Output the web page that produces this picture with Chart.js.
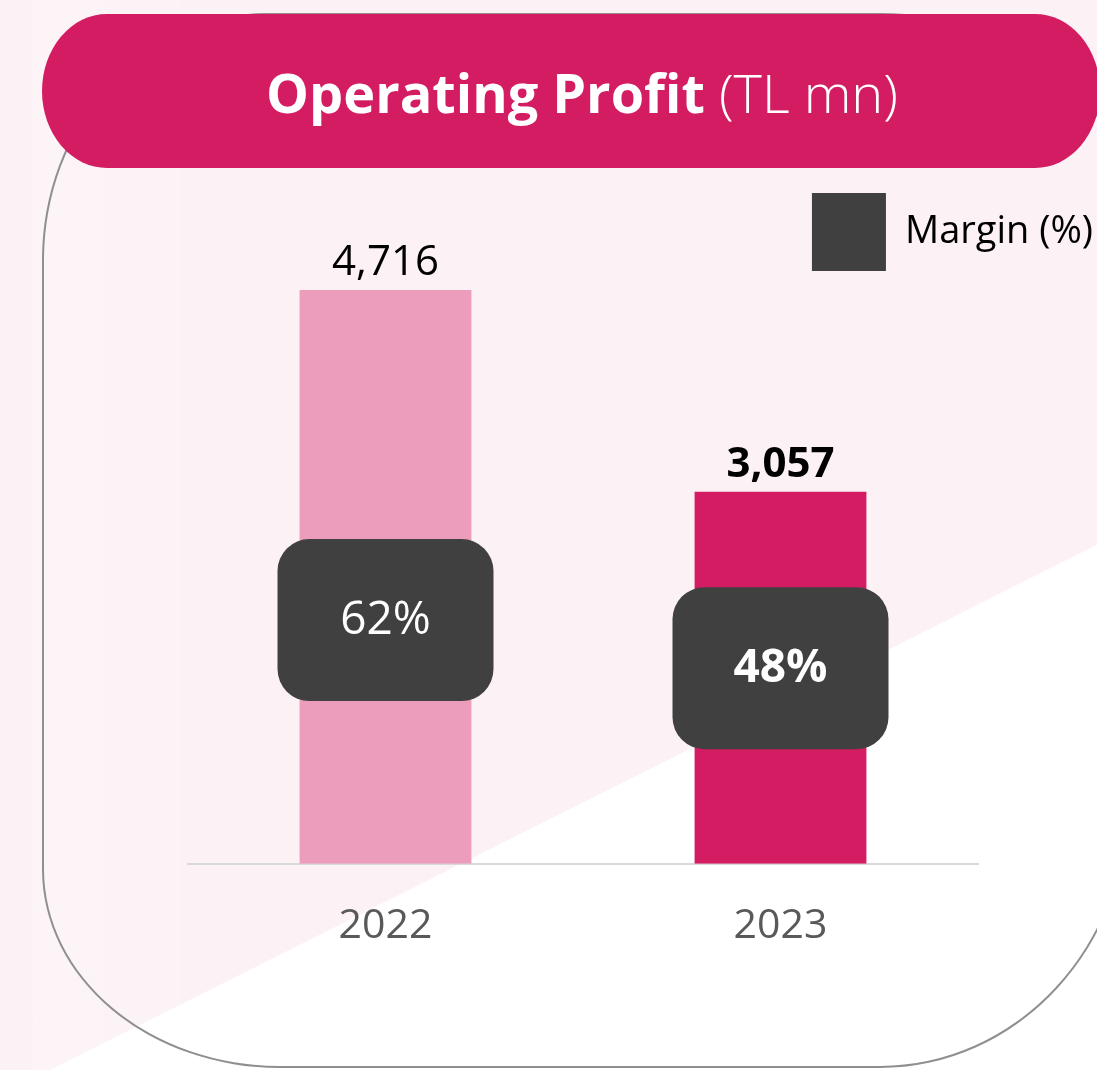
<!DOCTYPE html>
<html>
<head>
<meta charset="utf-8">
<script src="https://cdn.jsdelivr.net/npm/chart.js@4.4.1/dist/chart.umd.min.js"></script>
<style>
  html, body { margin: 0; padding: 0; }
  body { width: 1097px; height: 1070px; overflow: hidden; position: relative; background: #fcf2f6; font-family: "Open Sans", sans-serif; }
  #white { position: absolute; left: 0; top: 0; width: 1097px; height: 1070px; background: #fff;
    clip-path: polygon(1097px 545px, 50px 1070px, 1097px 1070px); }
  #band { position: absolute; left: 33px; top: 0; width: 148px; height: 1070px;
    background: linear-gradient(90deg, rgba(255,255,255,0.15), rgba(255,255,255,0.08)); }
  #frame { position: absolute; left: 42px; top: 13px; width: 1084px; height: 1051px; border: 2px solid #8f8f8f;
    border-radius: 224px 250px 250px 238px / 247px 200px 270px 199px; }
  #header { position: absolute; left: 42px; top: 14px; width: 1058px; height: 154px; background: #d41c63;
    border-radius: 65px / 77px; z-index: 2; }
  #title { position: absolute; left: 0; top: 65px; width: 1164px; text-align: center; color: #fff;
    font-size: 54px; line-height: 54px; z-index: 3; white-space: nowrap; }
  #title b { font-weight: 700; }
  #title span { font-weight: 300; }
  #wrap { position: absolute; left: 0; top: 170px; width: 1097px; height: 900px; z-index: 1; }
</style>
</head>
<body>
<div id="white"></div>
<div id="band"></div>
<div id="frame"></div>
<div id="header"></div>
<div id="title"><b>Operating Profit</b> <span>(TL mn)</span></div>
<div id="wrap"><canvas id="chart"></canvas></div>
<script>
// Operating profit chart data
var years = ['2022', '2023'];
var operatingProfit = [4716, 3057];
var marginPct = [62, 48];
var highlight = 1; // 2023 is shown in bold

var FONT = '"Open Sans", sans-serif';

var labelPlugin = {
  id: 'valueLabels',
  afterDatasetsDraw: function(chart) {
    var ctx = chart.ctx;
    var bars = chart.getDatasetMeta(0).data;
    var pts = chart.getDatasetMeta(1).data;
    ctx.save();
    ctx.textAlign = 'center';
    for (var i = 0; i < bars.length; i++) {
      ctx.font = (i === highlight ? '700' : '400') + ' 42px ' + FONT;
      ctx.fillStyle = '#000';
      ctx.textBaseline = 'alphabetic';
      ctx.fillText(operatingProfit[i].toLocaleString('en-US'), bars[i].x, bars[i].y - 15);
    }
    for (var j = 0; j < pts.length; j++) {
      var p = pts[j];
      ctx.fillStyle = '#404040';
      ctx.beginPath();
      ctx.roundRect(p.x - 108, p.y - 81, 216, 162, 32);
      ctx.fill();
      ctx.fillStyle = '#fff';
      ctx.font = (j === highlight ? '700' : '400') + ' 46px ' + FONT;
      ctx.textBaseline = 'middle';
      ctx.fillText(marginPct[j] + '%', p.x, p.y + 1);
    }
    ctx.restore();
  }
};

new Chart(document.getElementById('chart'), {
  type: 'bar',
  data: {
    labels: years,
    datasets: [
      { label: 'Operating Profit', data: operatingProfit, backgroundColor: ['#ec9dbc', '#d41c63'],
        categoryPercentage: 1, barPercentage: 0.435, yAxisID: 'y', order: 2 },
      { type: 'line', label: 'Margin (%)', data: marginPct, yAxisID: 'y1', showLine: false,
        pointRadius: 0, borderWidth: 0, backgroundColor: '#404040', borderColor: '#404040', order: 1 }
    ]
  },
  options: {
    responsive: true, maintainAspectRatio: false, animation: false,
    layout: { padding: { left: 188, right: 0, top: 19, bottom: 89 } },
    plugins: {
      legend: {
        position: 'top', align: 'end',
        labels: {
          filter: function(item) { return item.datasetIndex === 1; },
          boxWidth: 74, boxHeight: 78, padding: 4, color: '#000',
          font: { family: FONT, size: 38 }
        }
      },
      tooltip: { enabled: false }
    },
    scales: {
      x: {
        grid: { display: false },
        border: { display: true, color: '#d9d9d9', width: 2 },
        ticks: { color: '#595959', font: { family: FONT, size: 41 }, padding: 30 }
      },
      y: { display: false, min: 0, max: 4790 },
      y1: {
        position: 'right', min: -8.875, max: 160.6,
        grid: { display: false }, border: { display: false }, ticks: { display: false },
        afterFit: function(s) { s.width = 119; }
      }
    }
  },
  plugins: [labelPlugin]
});
</script>
</body>
</html>
